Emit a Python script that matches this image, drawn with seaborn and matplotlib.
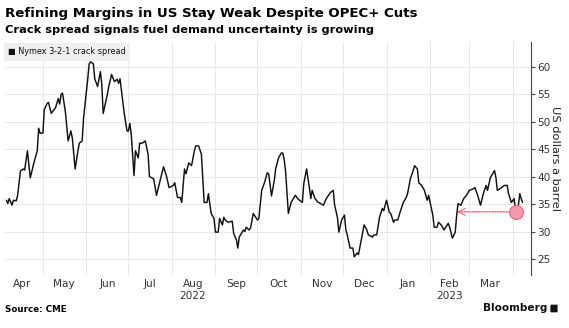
import matplotlib
matplotlib.use("Agg")
import matplotlib.pyplot as plt
import matplotlib.dates as mdates
from matplotlib.patches import FancyBboxPatch
import seaborn as sns
import pandas as pd

# ---------------- data ----------------
dates = [
    "2022-04-05", "2022-04-06", "2022-04-07", "2022-04-09", "2022-04-10", "2022-04-12", "2022-04-13",
    "2022-04-15", "2022-04-17", "2022-04-18", "2022-04-20", "2022-04-22", "2022-04-25", "2022-04-27",
    "2022-04-28", "2022-04-29", "2022-05-01", "2022-05-02", "2022-05-04", "2022-05-05", "2022-05-07",
    "2022-05-09", "2022-05-10", "2022-05-12", "2022-05-13", "2022-05-14", "2022-05-15", "2022-05-17",
    "2022-05-19", "2022-05-21", "2022-05-22", "2022-05-24", "2022-05-26", "2022-05-27", "2022-05-29",
    "2022-05-30", "2022-06-02", "2022-06-03", "2022-06-04", "2022-06-06", "2022-06-07", "2022-06-09",
    "2022-06-11", "2022-06-12", "2022-06-13", "2022-06-16", "2022-06-17", "2022-06-19", "2022-06-21",
    "2022-06-23", "2022-06-24", "2022-06-25", "2022-06-27", "2022-06-28", "2022-06-30", "2022-07-01",
    "2022-07-02", "2022-07-03", "2022-07-05", "2022-07-06", "2022-07-08", "2022-07-09", "2022-07-11",
    "2022-07-13", "2022-07-15", "2022-07-16", "2022-07-19", "2022-07-21", "2022-07-23", "2022-07-26",
    "2022-07-28", "2022-07-30", "2022-08-02", "2022-08-03", "2022-08-05", "2022-08-07", "2022-08-08",
    "2022-08-10", "2022-08-11", "2022-08-13", "2022-08-15", "2022-08-17", "2022-08-18", "2022-08-20",
    "2022-08-22", "2022-08-23", "2022-08-24", "2022-08-26", "2022-08-27", "2022-08-29", "2022-08-31",
    "2022-09-01", "2022-09-03", "2022-09-04", "2022-09-06", "2022-09-07", "2022-09-08", "2022-09-10",
    "2022-09-13", "2022-09-14", "2022-09-16", "2022-09-17", "2022-09-18", "2022-09-21", "2022-09-22",
    "2022-09-23", "2022-09-25", "2022-09-26", "2022-09-28", "2022-10-01", "2022-10-02", "2022-10-04",
    "2022-10-06", "2022-10-08", "2022-10-09", "2022-10-11", "2022-10-13", "2022-10-14", "2022-10-16",
    "2022-10-18", "2022-10-19", "2022-10-20", "2022-10-21", "2022-10-23", "2022-10-25", "2022-10-27",
    "2022-10-28", "2022-10-30", "2022-11-02", "2022-11-03", "2022-11-05", "2022-11-07", "2022-11-08",
    "2022-11-09", "2022-11-11", "2022-11-13", "2022-11-15", "2022-11-17", "2022-11-19", "2022-11-22",
    "2022-11-24", "2022-11-25", "2022-11-27", "2022-11-28", "2022-11-30", "2022-12-02", "2022-12-03",
    "2022-12-04", "2022-12-06", "2022-12-08", "2022-12-09", "2022-12-11", "2022-12-12", "2022-12-14",
    "2022-12-16", "2022-12-18", "2022-12-19", "2022-12-22", "2022-12-23", "2022-12-25", "2022-12-27",
    "2022-12-29", "2022-12-30", "2023-01-01", "2023-01-03", "2023-01-04", "2023-01-06", "2023-01-07",
    "2023-01-09", "2023-01-11", "2023-01-13", "2023-01-15", "2023-01-16", "2023-01-18", "2023-01-20",
    "2023-01-21", "2023-01-23", "2023-01-24", "2023-01-26", "2023-01-28", "2023-01-30", "2023-01-31",
    "2023-02-03", "2023-02-04", "2023-02-06", "2023-02-07", "2023-02-09", "2023-02-11", "2023-02-14",
    "2023-02-15", "2023-02-17", "2023-02-19", "2023-02-20", "2023-02-21", "2023-02-23", "2023-02-25",
    "2023-02-27", "2023-03-01", "2023-03-04", "2023-03-05", "2023-03-07", "2023-03-09", "2023-03-11",
    "2023-03-13", "2023-03-14", "2023-03-16", "2023-03-19", "2023-03-20", "2023-03-21", "2023-03-24",
    "2023-03-26", "2023-03-28", "2023-03-29", "2023-03-31", "2023-04-02", "2023-04-03", "2023-04-05",
    "2023-04-06", "2023-04-07", "2023-04-08",
]
crack_spread = [
    35.7, 35.1, 36.0, 34.8, 35.7, 35.6, 36.6,
    41.0, 41.4, 41.2, 44.7, 39.8, 42.9, 44.7,
    48.8, 47.9, 47.9, 52.2, 53.3, 53.5, 51.5,
    52.2, 52.5, 54.2, 53.2, 55.0, 55.2, 51.9,
    46.5, 48.3, 47.0, 41.4, 44.7, 46.1, 46.5,
    50.6, 57.8, 60.5, 60.9, 60.5, 57.8, 56.4,
    59.1, 56.8, 51.5, 55.0, 56.4, 58.6, 57.3,
    57.7, 57.0, 57.8, 53.7, 51.5, 48.3, 48.3,
    49.7, 47.7, 40.2, 44.7, 43.4, 46.1, 46.1,
    46.5, 44.1, 40.0, 39.6, 36.6, 38.7, 41.8,
    40.2, 38.0, 38.4, 38.9, 36.2, 36.2, 35.3,
    41.4, 40.5, 42.5, 42.0, 44.7, 45.6, 45.6,
    44.1, 39.8, 35.3, 35.3, 36.9, 33.3, 32.4,
    29.9, 29.9, 32.4, 31.2, 32.6, 32.1, 31.7,
    31.9, 29.7, 28.5, 27.0, 29.0, 30.3, 30.0,
    30.8, 30.3, 30.6, 33.3, 32.1, 32.4, 37.5,
    38.9, 40.7, 40.5, 36.5, 39.3, 41.5, 43.4,
    44.3, 44.3, 43.2, 41.1, 33.3, 35.3, 36.2,
    36.6, 35.9, 35.3, 38.7, 41.4, 38.0, 36.0,
    37.5, 36.0, 35.4, 35.1, 34.8, 36.0, 37.1,
    37.5, 34.8, 32.6, 29.9, 32.1, 33.0, 30.3,
    29.4, 27.0, 27.0, 25.4, 26.1, 25.8, 28.5,
    31.2, 30.3, 29.4, 29.0, 29.4, 29.4, 32.6,
    34.2, 33.8, 35.7, 33.5, 33.3, 31.7, 32.1,
    32.1, 33.8, 35.3, 36.2, 36.9, 39.6, 41.1,
    42.0, 41.4, 38.9, 38.4, 37.5, 35.7, 36.6,
    33.0, 30.8, 30.8, 31.7, 31.2, 30.3, 31.5,
    30.8, 28.8, 29.9, 33.0, 35.1, 34.8, 36.0,
    36.6, 37.5, 37.8, 38.0, 36.6, 34.8, 36.9,
    38.4, 37.5, 39.8, 41.1, 39.8, 37.5, 38.0,
    38.4, 38.4, 36.9, 35.3, 36.0, 33.6, 34.8,
    36.9, 36.0, 35.3,
]
series_name = "Nymex 3-2-1 crack spread"
highlight_date = "2023-04-03"
highlight_value = 33.6
arrow_target_date = "2023-02-20"
y_ticks = [25, 30, 35, 40, 45, 50, 55, 60]
month_labels = ["Apr", "May", "Jun", "Jul", "Aug\n2022", "Sep", "Oct", "Nov", "Dec",
                "Jan", "Feb\n2023", "Mar"]
month_label_dates = ["2022-04-16", "2022-05-16", "2022-06-16", "2022-07-16", "2022-08-16",
                     "2022-09-16", "2022-10-16", "2022-11-16", "2022-12-16", "2023-01-16",
                     "2023-02-15", "2023-03-16"]

title = "Refining Margins in US Stay Weak Despite OPEC+ Cuts"
subtitle = "Crack spread signals fuel demand uncertainty is growing"
source = "Source: CME"
y_label = "US dollars a barrel"

# ---------------- plotting ----------------
df = pd.DataFrame({"date": pd.to_datetime(dates), "value": crack_spread})

sns.set_theme(style="white")
plt.rcParams["font.family"] = ["DejaVu Sans"]

W, H = 569, 328
fig = plt.figure(figsize=(W / 100, H / 100), dpi=100)
left, right, top, bottom = 5, 531, 42, 275
ax = fig.add_axes([left / W, 1 - bottom / H, (right - left) / W, (bottom - top) / H])

sns.lineplot(data=df, x="date", y="value", ax=ax, color="#111111", linewidth=1.05)

ax.set_xlim(pd.Timestamp("2022-04-04"), pd.Timestamp("2023-04-14"))
ax.set_ylim(22.1, 64.5)

# grid: month starts
ax.xaxis.set_major_locator(mdates.MonthLocator())
ax.xaxis.set_major_formatter(plt.NullFormatter())
ax.set_xticks(pd.to_datetime(month_label_dates), minor=True)
ax.set_xticklabels(month_labels, minor=True)
ax.tick_params(axis="x", which="both", length=0)
ax.tick_params(axis="x", which="minor", labelsize=7.6, labelcolor="#333333", pad=3)
ax.grid(True, which="major", axis="both", color="#e8e8e8", linewidth=0.7)

ax.yaxis.tick_right()
ax.set_yticks(y_ticks)
ax.tick_params(axis="y", which="major", length=3, width=0.8, color="#444444",
               labelsize=7.6, labelcolor="#333333", pad=1.5, right=True, left=False)

for s in ["top", "left", "bottom"]:
    ax.spines[s].set_visible(False)
ax.spines["right"].set_color("#444444")
ax.spines["right"].set_linewidth(0.8)

ax.set_xlabel("")
ax.set_ylabel("")
fig.text(555 / W, 1 - 159 / H, y_label, rotation=-90, fontsize=8.2, color="#222222",
         ha="center", va="center")

# highlight marker and arrow
hd = pd.Timestamp(highlight_date)
ax.annotate("", xy=(pd.Timestamp(arrow_target_date), highlight_value),
            xytext=(hd, highlight_value),
            arrowprops=dict(arrowstyle="->", linestyle=(0, (1, 1)), color="#e8687f",
                            lw=1.0, shrinkA=0, shrinkB=0))
ax.scatter([hd], [highlight_value], s=100, color="#f49aab", edgecolor="#e8687f",
           linewidth=0.8, zorder=5)

# legend box
ax.text(3 / W, 1 - (52 - top) / (bottom - top), "\u25a0 " + series_name,
        transform=ax.transAxes, fontsize=5.9, color="#111111", va="center", ha="left",
        bbox=dict(boxstyle="square,pad=0.5", facecolor="#efefef", edgecolor="none"))

# titles and footer
fig.text(5 / W, 1 - 13 / H, title, fontsize=9.6, fontweight="bold", color="#000000",
         va="center", ha="left")
fig.text(5 / W, 1 - 30 / H, subtitle, fontsize=8.2, fontweight="bold", color="#000000",
         va="center", ha="left")
fig.text(5 / W, 1 - 309 / H, source, fontsize=6.3, fontweight="bold", color="#000000",
         va="center", ha="left")
fig.text(547 / W, 1 - 308 / H, "Bloomberg", fontsize=7.6, fontweight="bold",
         color="#111111", va="center", ha="right")
fig.patches.append(FancyBboxPatch((551 / W, 1 - 312 / H), 6 / W, 7 / H,
                                  boxstyle="round,pad=0.001", transform=fig.transFigure,
                                  facecolor="#111111", edgecolor="none"))

fig.savefig("out.png", dpi=100)
